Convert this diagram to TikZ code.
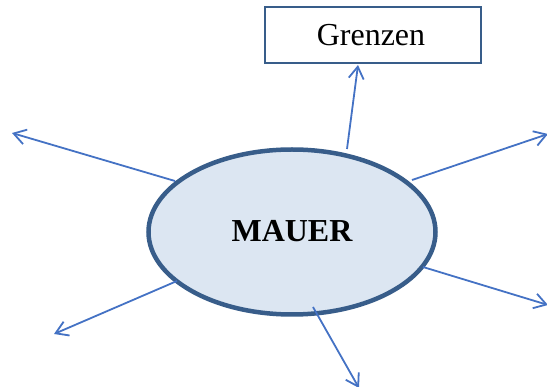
\documentclass[tikz,border=0pt]{standalone}
\usepackage{fontspec}
\setmainfont{Liberation Serif}
\usetikzlibrary{arrows.meta}
\definecolor{arrowblue}{RGB}{68,114,196}
\definecolor{ellfill}{RGB}{220,230,242}
\definecolor{elldraw}{RGB}{56,93,138}
\tikzset{
  conn/.style={draw=arrowblue, line width=1.8pt, -{Straight Barb[length=12pt,width=15pt,line width=1.8pt]}},
  mauerell/.style={ellipse, fill=ellfill, draw=elldraw, line width=4.5pt, minimum width=287pt, minimum height=165pt, inner sep=0pt},
  gbox/.style={rectangle, draw=elldraw, line width=2pt, minimum width=216pt, minimum height=56pt, inner sep=0pt}
}
\usetikzlibrary{shapes.geometric}
\begin{document}
\begin{tikzpicture}[x=1pt,y=-1pt]
\useasboundingbox (0,0) rectangle (547,387);
\node[mauerell] (m) at (292,232) {};
\node[font=\fontsize{32}{36}\selectfont\bfseries, anchor=base] (mt) at (292,242) {MAUER};
\node[gbox] (g) at (372.5,35.5) {};
\node[font=\fontsize{32}{36}\selectfont, anchor=base] (gt) at (371,46) {Grenzen};
\coordinate (s1) at (347,149);
\coordinate (t1) at (358,65);
\coordinate (s2) at (175,181);
\coordinate (t2) at (12,133);
\coordinate (s3) at (412,180);
\coordinate (t3) at (548,134);
\coordinate (s4) at (177,281);
\coordinate (t4) at (54,334);
\coordinate (s5) at (423,267);
\coordinate (t5) at (548,305);
\coordinate (s6) at (313,307);
\coordinate (t6) at (359,388);
\draw[conn] (s1) -- (t1);
\draw[conn] (s2) -- (t2);
\draw[conn] (s3) -- (t3);
\draw[conn] (s4) -- (t4);
\draw[conn] (s5) -- (t5);
\draw[conn] (s6) -- (t6);
\end{tikzpicture}
\end{document}
